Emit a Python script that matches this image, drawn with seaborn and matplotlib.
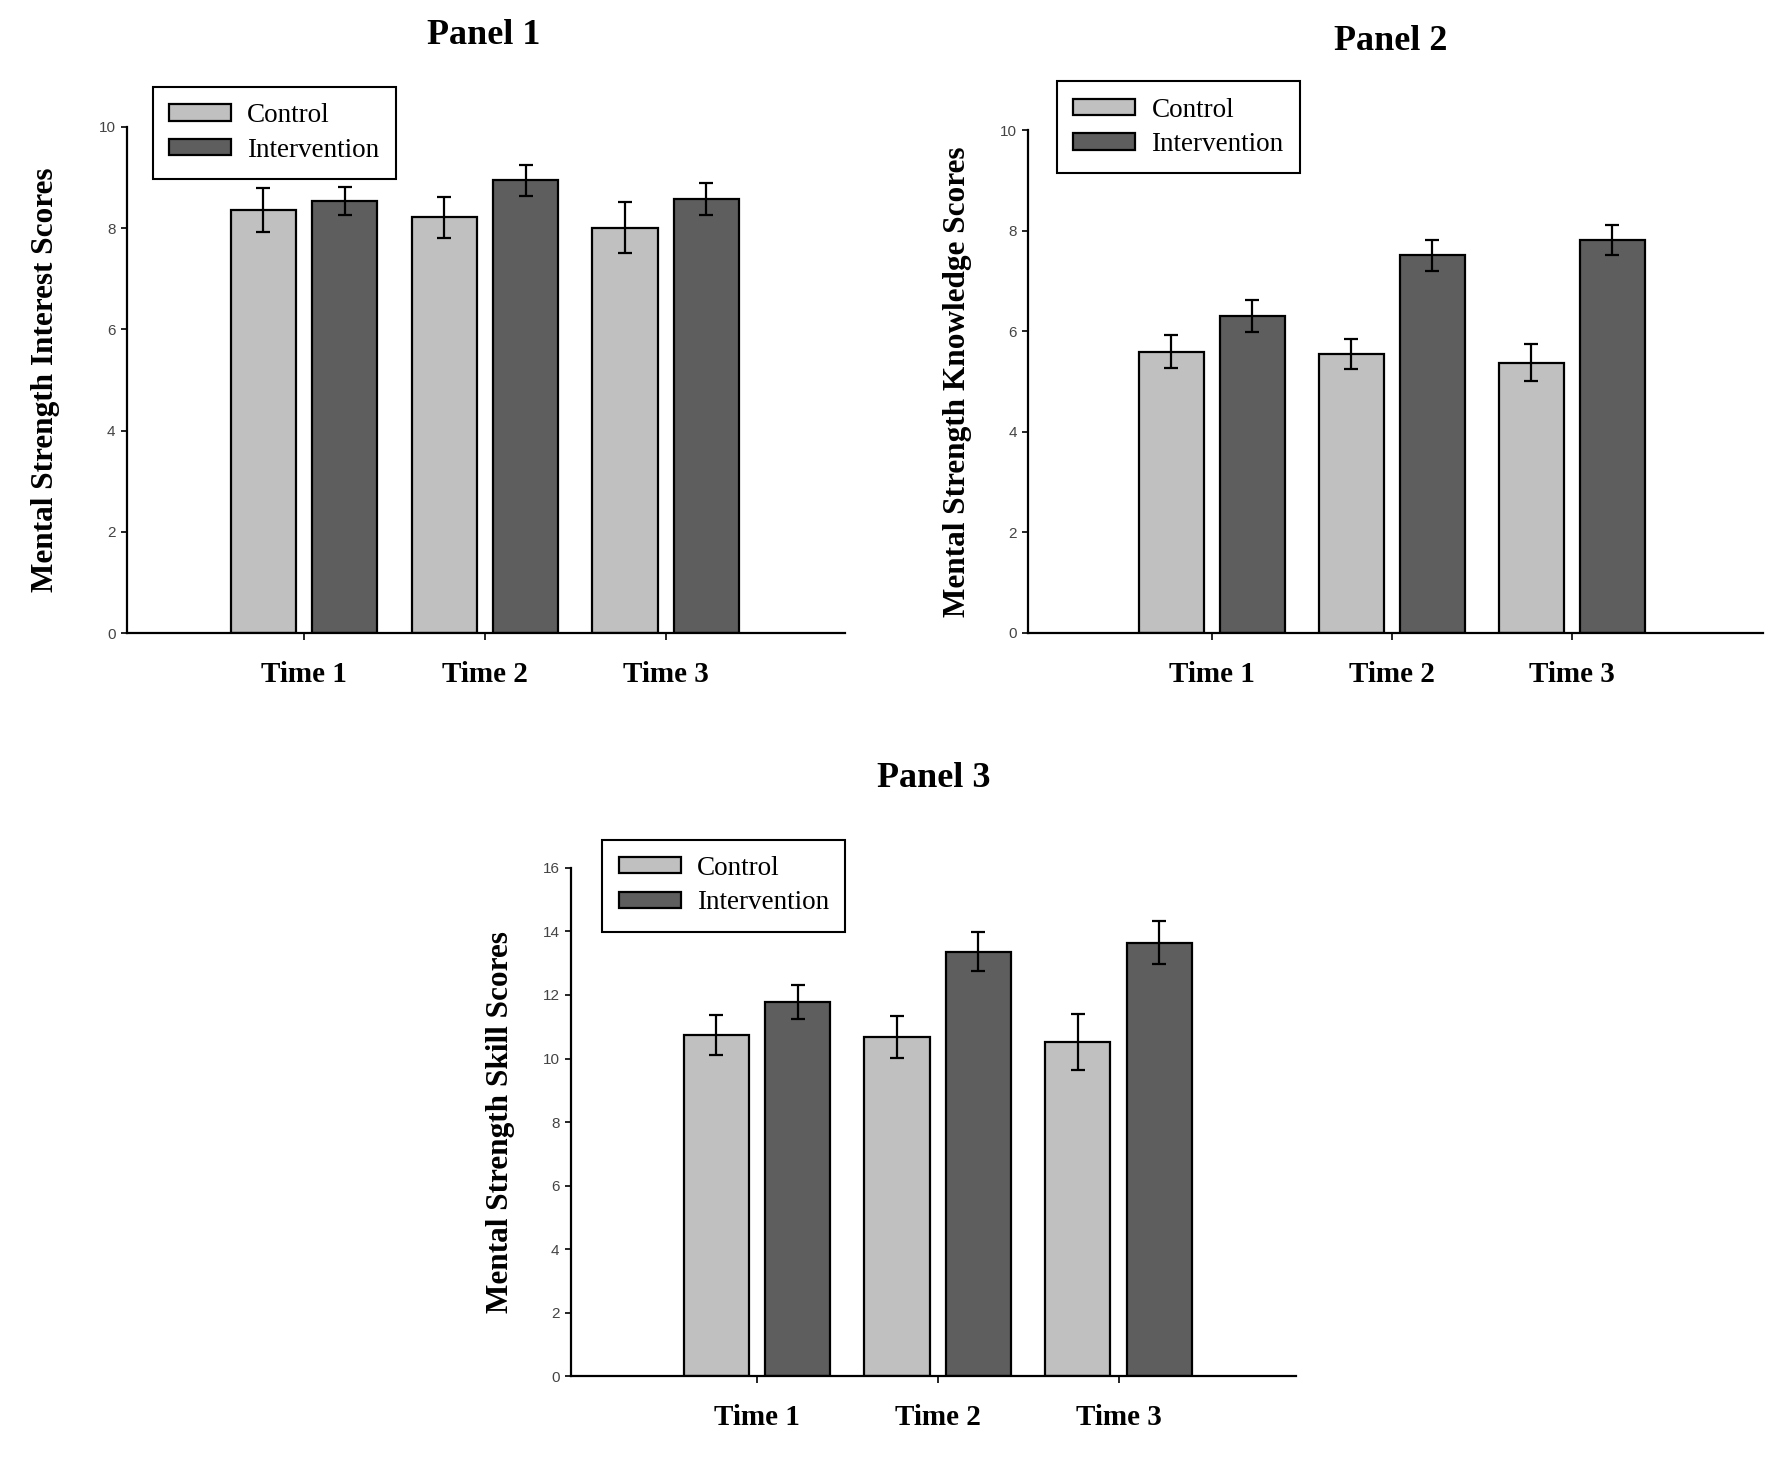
import matplotlib
matplotlib.use('Agg')
import matplotlib.pyplot as plt
import numpy as np
import pandas as pd
import seaborn as sns

times = ['Time 1', 'Time 2', 'Time 3']
groups = ['Control', 'Intervention']

interest_control = [8.36, 8.21, 8.01]
interest_control_se = [0.43, 0.40, 0.50]
interest_interv = [8.53, 8.94, 8.57]
interest_interv_se = [0.28, 0.30, 0.32]

knowledge_control = [5.59, 5.55, 5.37]
knowledge_control_se = [0.33, 0.30, 0.37]
knowledge_interv = [6.30, 7.51, 7.82]
knowledge_interv_se = [0.31, 0.31, 0.30]

skill_control = [10.74, 10.67, 10.52]
skill_control_se = [0.64, 0.66, 0.88]
skill_interv = [11.77, 13.36, 13.64]
skill_interv_se = [0.53, 0.62, 0.68]

colors = {'Control': '#c0c0c0', 'Intervention': '#5e5e5e'}

sns.set_style('ticks')
plt.rcParams['font.family'] = ['Liberation Serif', 'DejaVu Serif']
plt.rcParams['text.color'] = 'black'
plt.rcParams['axes.labelcolor'] = 'black'
plt.rcParams['xtick.color'] = 'black'
plt.rcParams['ytick.color'] = 'black'

fig = plt.figure(figsize=(17.72, 14.69), dpi=100)


def panel(rect, ctrl, ctrl_se, intv, intv_se, ymax, ylabel, title, title_xy, leg_xy, xlim, label_x):
    ax = fig.add_axes(rect)
    df = pd.DataFrame({
        'time': times * 2,
        'group': ['Control'] * 3 + ['Intervention'] * 3,
        'score': list(ctrl) + list(intv),
    })
    sns.barplot(data=df, x='time', y='score', hue='group', hue_order=groups,
                palette=colors, errorbar=None, width=0.9, gap=0.2,
                edgecolor='black', linewidth=1.6, saturation=1, ax=ax)
    # error bars placed on the bars seaborn drew
    for cont, se in zip(ax.containers, [ctrl_se, intv_se]):
        xs = [p.get_x() + p.get_width() / 2 for p in cont]
        ys = [p.get_height() for p in cont]
        ax.errorbar(xs, ys, yerr=se, fmt='none', ecolor='black',
                    elinewidth=1.6, capsize=5, capthick=1.6, zorder=5)
    ax.set_ylim(0, ymax)
    ax.set_xlim(*xlim)
    ax.set_yticks(np.arange(0, ymax + 1, 2))
    ax.set_xlabel('')
    ax.set_ylabel(ylabel, fontsize=22.5, fontweight='bold')
    ax.yaxis.set_label_coords(label_x, 0.5)
    sns.despine(ax=ax)
    for s in ['left', 'bottom']:
        ax.spines[s].set_linewidth(1.6)
        ax.spines[s].set_color('black')
    ax.tick_params(axis='y', labelsize=11, labelcolor='#444444', length=4,
                   width=1.2, pad=4)
    ax.tick_params(axis='x', labelsize=21, length=5, width=1.2, pad=15)
    for t in ax.get_yticklabels():
        t.set_family('Liberation Sans')
    for t in ax.get_xticklabels():
        t.set_fontweight('bold')
    ax.get_legend().remove()
    handles = [plt.Rectangle((0, 0), 1, 1, facecolor=colors[g], edgecolor='black', linewidth=1.6)
               for g in groups]
    leg = ax.legend(handles, groups, loc='upper left', bbox_to_anchor=leg_xy,
                    bbox_transform=fig.transFigure, borderaxespad=0, fontsize=19.5,
                    frameon=True, fancybox=False, framealpha=1, edgecolor='black',
                    handlelength=2.3, handleheight=0.55, labelspacing=0.35,
                    borderpad=0.6, handletextpad=0.6)
    leg.get_frame().set_linewidth(1.5)
    fig.text(title_xy[0], title_xy[1], title, ha='center', va='center',
             fontsize=26, fontweight='bold')
    return ax


panel([0.0714, 0.569, 0.4054, 0.3447], interest_control, interest_control_se,
      interest_interv, interest_interv_se, 10, 'Mental Strength Interest Scores',
      'Panel 1', (0.273, 0.976), (0.0861, 0.9408), (-0.98, 2.99), -0.092)

panel([0.5803, 0.5692, 0.4145, 0.3423], knowledge_control, knowledge_control_se,
      knowledge_interv, knowledge_interv_se, 10, 'Mental Strength Knowledge Scores',
      'Panel 2', (0.785, 0.972), (0.5963, 0.9446), (-1.02, 3.06), -0.076)

panel([0.322, 0.0631, 0.4093, 0.3461], skill_control, skill_control_se,
      skill_interv, skill_interv_se, 16, 'Mental Strength Skill Scores',
      'Panel 3', (0.527, 0.470), (0.3399, 0.4285), (-1.03, 2.98), -0.077)

fig.savefig('out.png', dpi=100)
